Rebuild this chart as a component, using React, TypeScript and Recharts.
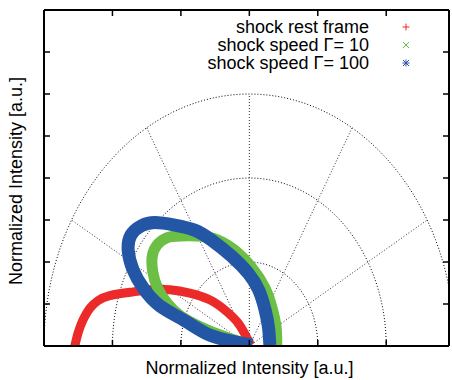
import { ComposedChart, Legend, Line, XAxis, YAxis } from "recharts";

const FONT = '"Liberation Sans", Arial, Helvetica, sans-serif';

// axis layout (gnuplot polar plot, ticks unlabeled)
const xTicks = [-2, -1, 0, 1, 2];
const yTicks = [0.5, 1, 1.5, 2, 2.5, 3, 3.5];
const gridRadii = [1, 2, 3];
const spokeAngles = [30, 60, 90, 120, 150];

// shock rest frame
const restX = [-2.55, -2.5, -2.43, -2.33, -2.21, -2.04, -1.74, -1.46, -1.16, -0.87, -0.58, -0.36, -0.18, -0.07, 0.02];
const restY = [0.0, 0.16, 0.31, 0.45, 0.54, 0.6, 0.64, 0.67, 0.67, 0.63, 0.55, 0.43, 0.29, 0.15, 0.01];

// shock speed Γ = 10
const g10X = [0.01, -0.36, -0.72, -1.01, -1.2, -1.34, -1.41, -1.42, -1.35, -1.2, -1.01, -0.77, -0.52, -0.23, 0.04, 0.23, 0.33, 0.39, 0.4];
const g10Y = [0.01, 0.11, 0.23, 0.36, 0.51, 0.69, 0.88, 1.06, 1.2, 1.29, 1.31, 1.31, 1.28, 1.15, 0.93, 0.69, 0.46, 0.23, 0.01];

// shock speed Γ = 100
const g100X = [0.04, -0.21, -0.58, -0.94, -1.31, -1.55, -1.7, -1.77, -1.73, -1.58, -1.38, -1.09, -0.8, -0.55, -0.26, -0.01, 0.14, 0.23, 0.28, 0.3];
const g100Y = [0.01, 0.05, 0.13, 0.3, 0.48, 0.69, 0.91, 1.14, 1.32, 1.43, 1.47, 1.44, 1.38, 1.26, 1.07, 0.86, 0.66, 0.43, 0.22, 0.01];

const seriesNames = ["shock rest frame", "shock speed \u0393= 10", "shock speed \u0393= 100"];
const seriesColors = ["#ec2a2a", "#6cbf45", "#2456a6"];
const seriesWidths = [9, 11, 13];
const seriesMarks = ["plus", "cross", "star"];

const zip = (xs: number[], ys: number[]) => xs.map((x, i) => ({ x, y: ys[i] }));
const seriesData = [zip(restX, restY), zip(g10X, g10Y), zip(g100X, g100Y)];

const toRad = (d: number) => (d * Math.PI) / 180;
const arc = (r: number) =>
  Array.from({ length: 73 }, (_, i) => ({ x: r * Math.cos(toRad(i * 2.5)), y: r * Math.sin(toRad(i * 2.5)) }));
const spoke = (deg: number) => [
  { x: 0, y: 0 },
  { x: 3 * Math.cos(toRad(deg)), y: 3 * Math.sin(toRad(deg)) },
];

// ticks are drawn (pointing inward) but carry no labels
const noLabel = () => <g />;

function Mark({ kind, color }: { kind: string; color: string }) {
  return (
    <svg width={12} height={12} style={{ marginLeft: 31, display: "block" }}>
      <g stroke={color} strokeWidth={1}>
        {(kind === "plus" || kind === "star") && (
          <>
            <line x1={2.5} y1={6} x2={9.5} y2={6} />
            <line x1={6} y1={2.5} x2={6} y2={9.5} />
          </>
        )}
        {(kind === "cross" || kind === "star") && (
          <>
            <line x1={3} y1={3} x2={9} y2={9} />
            <line x1={3} y1={9} x2={9} y2={3} />
          </>
        )}
      </g>
    </svg>
  );
}

function LegendBox(props: any) {
  const payload = (props.payload || []).filter((e: any) => seriesNames.includes(e.value));
  return (
    <div style={{ fontFamily: FONT, fontSize: 18, lineHeight: "18px", color: "#000" }}>
      {payload.map((entry: any) => {
        const i = seriesNames.indexOf(entry.value);
        return (
          <div key={entry.value} style={{ display: "flex", alignItems: "center", height: 18 }}>
            <span style={{ width: 209, textAlign: "right", whiteSpace: "nowrap" }}>{entry.value}</span>
            <Mark kind={seriesMarks[i]} color={seriesColors[i]} />
          </div>
        );
      })}
    </div>
  );
}

const frame = { stroke: "#000", strokeWidth: 2 };
const tickMark = { stroke: "#000", strokeWidth: 1.5 };

export default function App() {
  return (
    <div style={{ position: "absolute", left: 0, top: 0, width: 452, height: 380, background: "#fff", fontFamily: FONT }}>
      <ComposedChart width={452} height={380} margin={{ top: 9, right: 2, bottom: 33, left: 43 }}>
        <XAxis xAxisId="b" type="number" dataKey="x" domain={[-3, 2.917]} allowDataOverflow ticks={xTicks}
          interval={0} orientation="bottom" height={1} tick={noLabel} tickSize={-6} axisLine={frame} tickLine={tickMark} />
        <XAxis xAxisId="t" type="number" dataKey="x" domain={[-3, 2.917]} allowDataOverflow ticks={xTicks}
          interval={0} orientation="top" height={1} tick={noLabel} tickSize={-6} axisLine={frame} tickLine={tickMark} />
        <YAxis yAxisId="l" type="number" dataKey="y" domain={[0, 4]} allowDataOverflow ticks={yTicks}
          interval={0} orientation="left" width={1} tick={noLabel} tickSize={-6} axisLine={frame} tickLine={tickMark} />
        <YAxis yAxisId="r" type="number" dataKey="y" domain={[0, 4]} allowDataOverflow ticks={yTicks}
          interval={0} orientation="right" width={1} tick={noLabel} tickSize={-6} axisLine={frame} tickLine={tickMark} />

        {gridRadii.map((r) => (
          <Line key={"arc" + r} xAxisId="b" yAxisId="l" data={arc(r)} dataKey="y" legendType="none" type="linear"
            stroke="#000" strokeWidth={1} strokeDasharray="1 2" dot={false} activeDot={false}
            isAnimationActive={false} />
        ))}
        {spokeAngles.map((a) => (
          <Line key={"sp" + a} xAxisId="b" yAxisId="l" data={spoke(a)} dataKey="y" legendType="none" type="linear"
            stroke="#333" strokeWidth={1} strokeDasharray="1 2" dot={false} activeDot={false}
            isAnimationActive={false} />
        ))}

        {seriesData.map((d, i) => (
          <Line key={seriesNames[i]} name={seriesNames[i]} xAxisId="b" yAxisId="l" data={d} dataKey="y"
            type="natural" stroke={seriesColors[i]} strokeWidth={seriesWidths[i]} strokeLinejoin="round"
            dot={false} activeDot={false} isAnimationActive={false} />
        ))}

        <Legend layout="vertical" align="center" verticalAlign="middle" content={LegendBox}
          wrapperStyle={{ left: 160, top: 18, width: 260, height: 54 }} />
      </ComposedChart>

      <div style={{ position: "absolute", left: 249.5, top: 359, transform: "translateX(-50%)", fontSize: 18,
        lineHeight: "18px", whiteSpace: "nowrap", color: "#000" }}>
        Normalized Intensity [a.u.]
      </div>
      <div style={{ position: "absolute", left: 16, top: 180.5, transform: "translate(-50%, -50%) rotate(-90deg)",
        fontSize: 18, lineHeight: "18px", whiteSpace: "nowrap", color: "#000" }}>
        Normalized Intensity [a.u.]
      </div>
    </div>
  );
}
